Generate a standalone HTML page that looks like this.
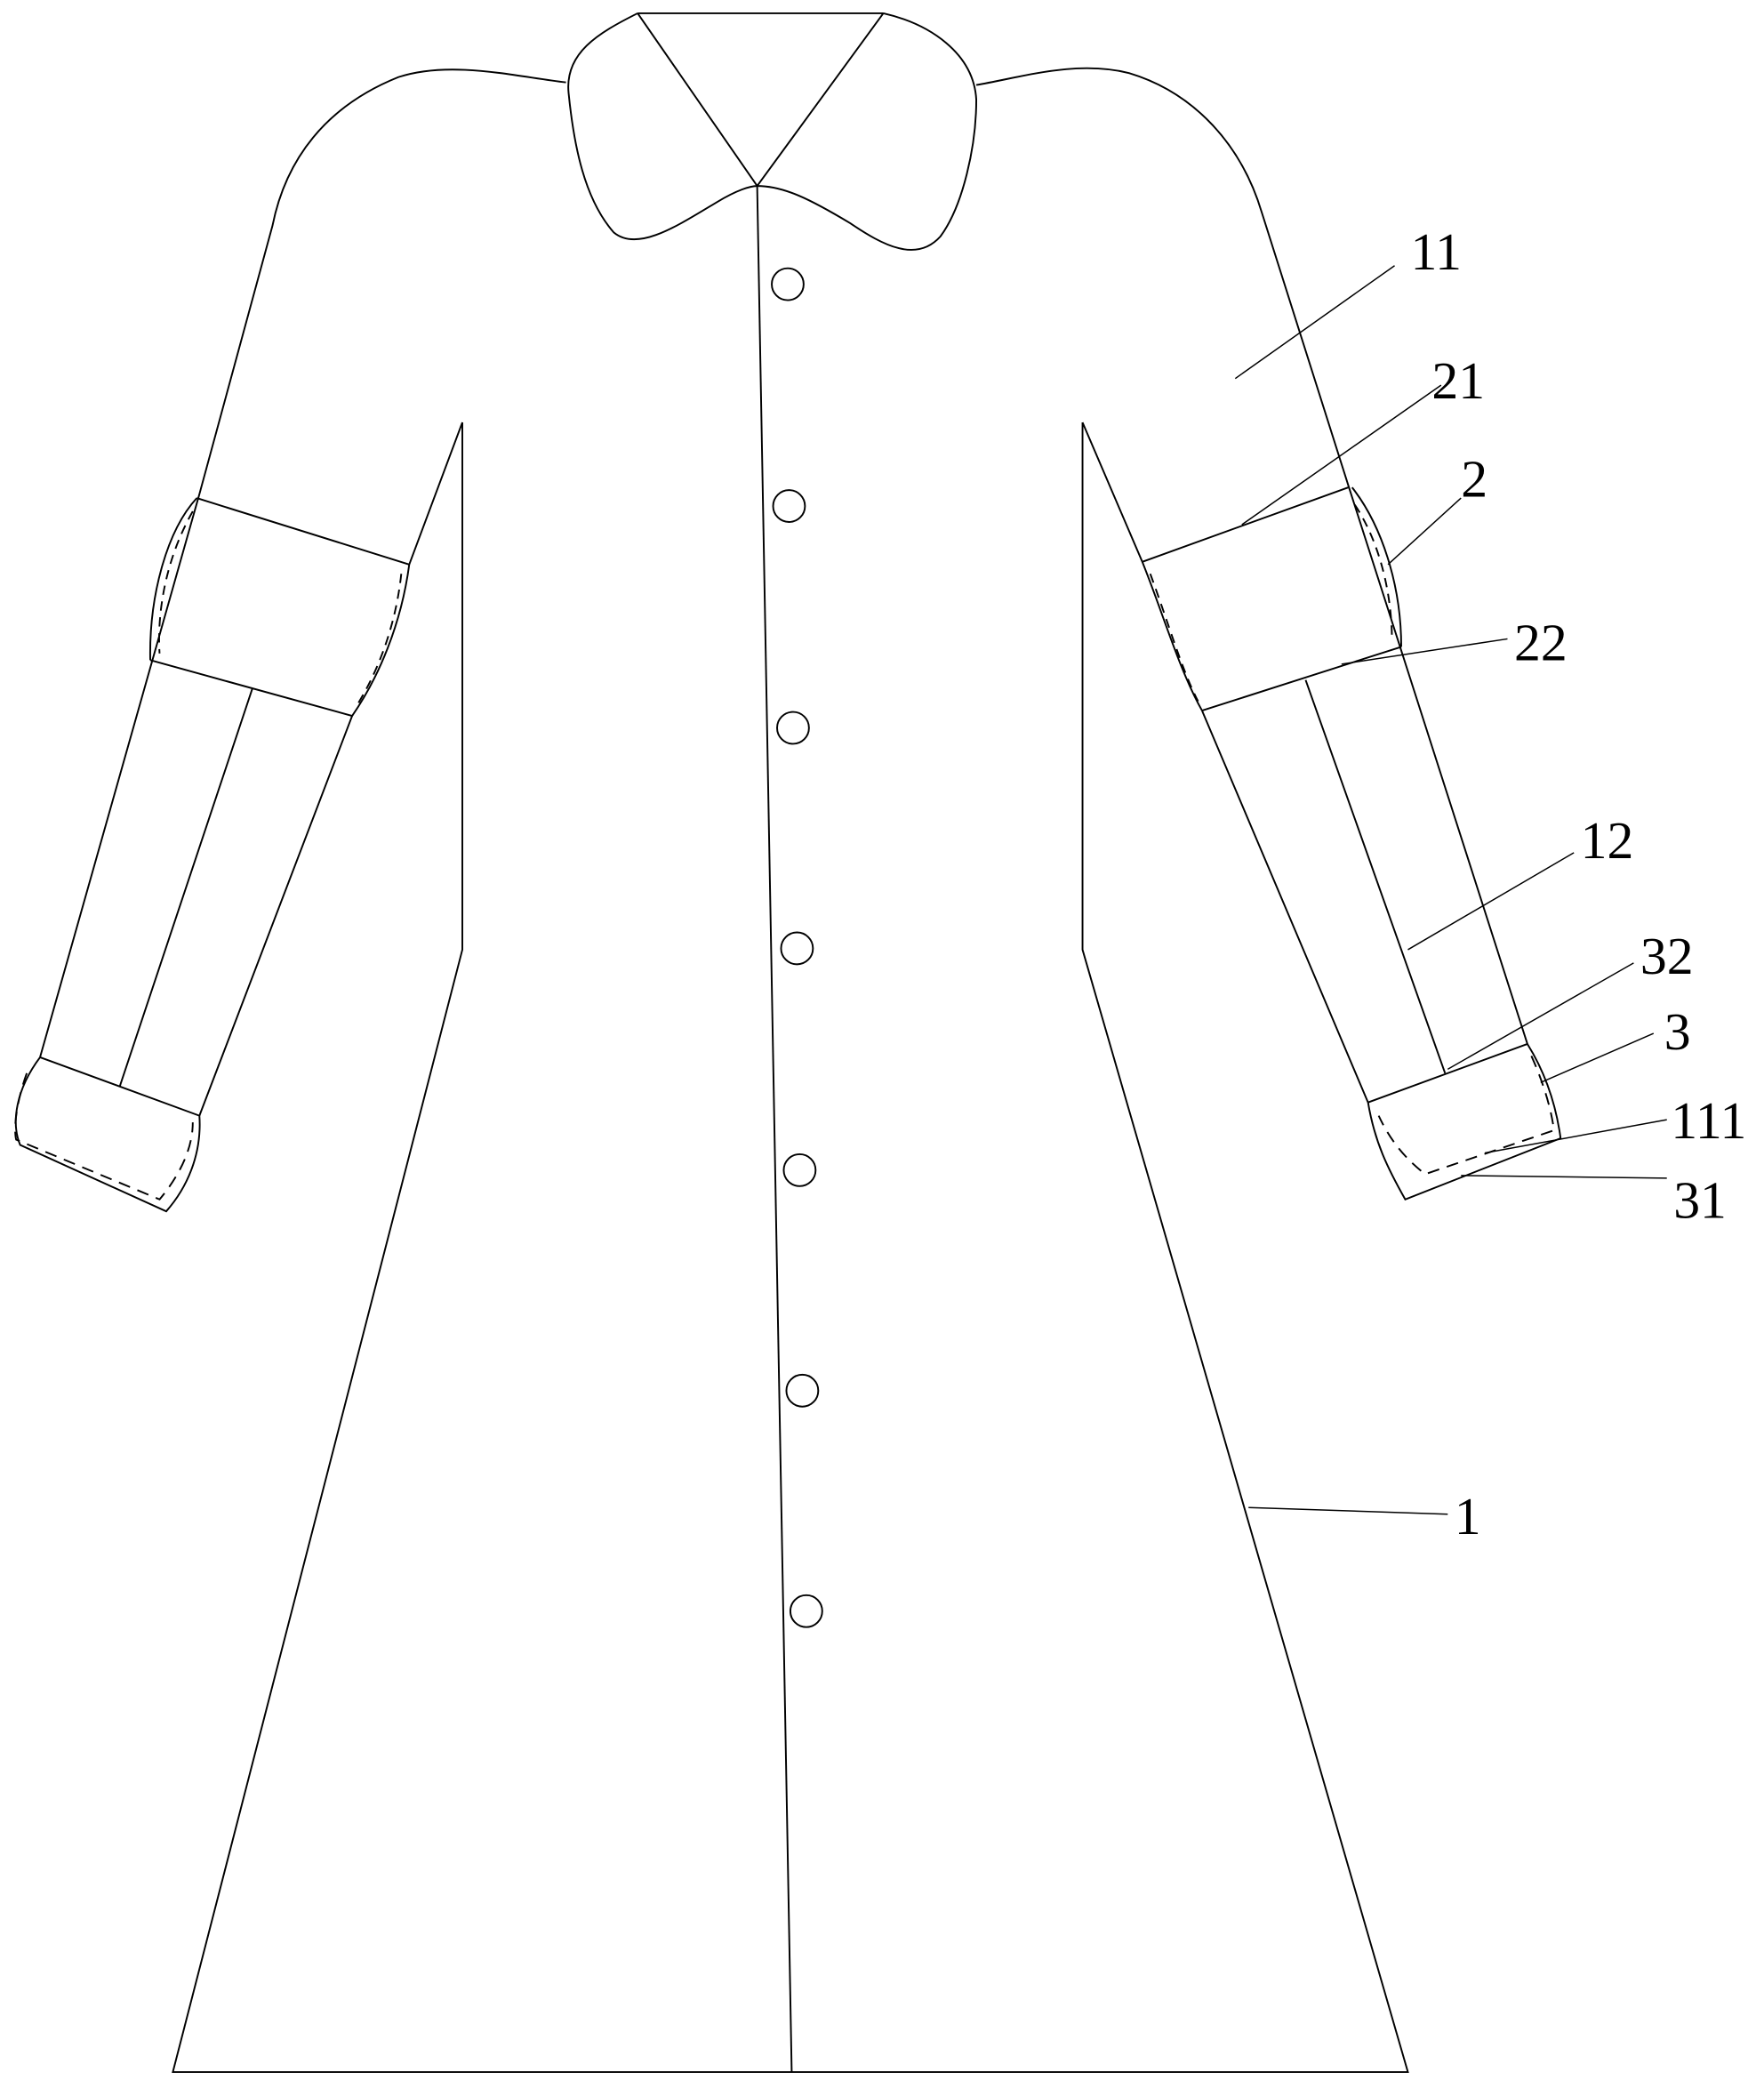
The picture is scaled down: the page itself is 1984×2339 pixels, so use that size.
<!DOCTYPE html>
<html><head><meta charset="utf-8"><style>html,body{margin:0;padding:0;background:#fff}svg{display:block}</style></head>
<body>
<svg width="1984" height="2339" viewBox="0 0 1328 1566" xmlns="http://www.w3.org/2000/svg" fill="none" stroke="#000" stroke-width="1.3">
<!-- collar -->
<path d="M480,10 L665,10 M480,10 L570,140 L665,10"/>
<path d="M480,10 C450,25 425,40 428,70 C432,110 440,150 462,175 C480,190 510,170 540,152 C555,143 565,140 570,140"/>
<path d="M570,140 C590,140 610,150 640,168 C665,185 690,198 708,178 C725,155 735,110 735,75 C733,40 700,18 665,10"/>
<!-- shoulders / outer sleeves -->
<path d="M426,62 C390,58 340,45 300,58 C245,80 215,120 205,170 L150,372 L30,796"/>
<path d="M735,64 C770,58 810,45 850,55 C900,70 935,110 950,160 L1015,365 L1150,786"/>
<!-- body -->
<path d="M348,318 L348,715 L130,1560 L1060,1560 L815,715 L815,318"/>
<path d="M570,140 L596,1560"/>
<!-- buttons -->
<circle cx="593" cy="214" r="12"/><circle cx="594" cy="381" r="12"/><circle cx="597" cy="548" r="12"/>
<circle cx="600" cy="714" r="12"/><circle cx="602" cy="881" r="12"/><circle cx="604" cy="1047" r="12"/><circle cx="607" cy="1213" r="12"/>
<!-- left sleeve -->
<path d="M348,318 L308,425 M148,375 L308,425 M113,497 L265,539 L150,840"/>
<path d="M190,518 L90,818"/>
<path d="M148,375 C125,400 112,450 113,497"/>
<path d="M308,425 C302,470 285,510 265,539"/>
<path d="M145,385 C125,420 118,460 120,492" stroke-dasharray="7,5"/>
<path d="M302,432 C298,470 285,505 268,532" stroke-dasharray="7,5"/>
<path d="M30,796 L150,840 C152,870 140,895 125,912 L15,862 C8,845 12,820 30,796"/>
<path d="M20,808 C12,830 10,850 12,858 L120,903 C135,885 145,865 145,845" stroke-dasharray="9,6"/>
<!-- right sleeve -->
<path d="M815,318 L860,423 M860,423 L1015,367 M905,535 L1055,487 M905,535 L1030,830"/>
<path d="M983,512 L1088,808"/>
<path d="M1018,367 C1040,395 1055,440 1055,487"/>
<path d="M860,423 C875,460 888,505 905,535"/>
<path d="M1020,380 C1040,410 1048,450 1048,482" stroke-dasharray="7,5"/>
<path d="M866,432 C880,470 890,505 902,528" stroke-dasharray="7,5"/>
<path d="M1030,830 L1150,786 C1165,810 1172,835 1175,857 L1058,903 C1045,880 1035,860 1030,830"/>
<path d="M1153,795 C1162,815 1168,835 1170,851 L1073,884 C1055,870 1045,855 1038,840" stroke-dasharray="9,6"/>
<!-- leaders -->
<path d="M930,285 L1050,200 M935,395 L1085,290 M1045,425 L1100,375 M1010,500 L1135,481 M1060,715 L1185,642 M1090,805 L1230,725 M1160,815 L1245,778 M1118,868 L1255,843 M1100,885 L1255,887 M940,1135 L1090,1140" stroke-width="1"/>
<g fill="#000" stroke="none" font-family="Liberation Serif, serif" font-size="40">
<text x="1062" y="203">11</text>
<text x="1078" y="300">21</text>
<text x="1100" y="374">2</text>
<text x="1140" y="497">22</text>
<text x="1190" y="646">12</text>
<text x="1235" y="733">32</text>
<text x="1253" y="790">3</text>
<text x="1258" y="857">111</text>
<text x="1260" y="917">31</text>
<text x="1095" y="1155">1</text>
</g>
</svg>
</body></html>
